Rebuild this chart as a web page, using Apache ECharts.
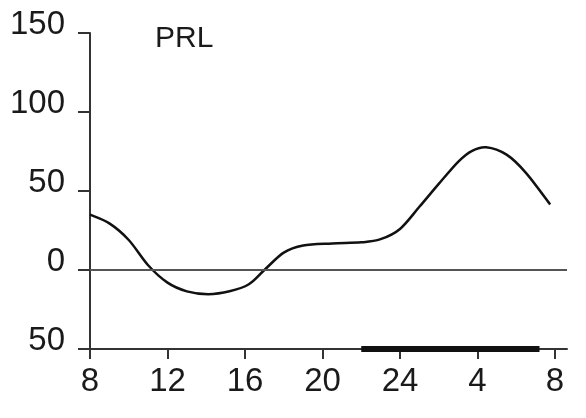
<!DOCTYPE html>
<html>
<head>
<meta charset="utf-8">
<script src="https://cdn.jsdelivr.net/npm/echarts@6/dist/echarts.min.js"></script>
<style>
  html, body { margin: 0; padding: 0; background: #fff; }
  #chart { width: 586px; height: 418px; }
</style>
</head>
<body>
<div id="chart"></div>
<script>
// Clock time in hours from 08:00 (8) through the next morning (32 = 08:00)
var hours = [8, 9, 10, 11, 12, 13, 14.1, 15.2, 16.2, 17, 18, 19, 20.5, 22, 23, 24, 25, 26, 27, 27.7, 28.45, 29.5, 30.5, 31.75];
// Prolactin deviation from mean
var prl = [35, 29.5, 19, 3, -8, -13.5, -15.3, -13.5, -9, 0, 11, 15.5, 16.8, 17.5, 19.5, 26, 40, 54.5, 68.5, 75.3, 77.7, 73, 61.5, 41.5];

var xTicks = [8, 12, 16, 20, 24, 28, 32];
var xTickLabels = ['8', '12', '16', '20', '24', '4', '8'];
var yTickLabels = { '-50': '50', '0': '0', '50': '50', '100': '100', '150': '150' };

// Sleep period (dark bar on the time axis)
var sleepStart = 22;
var sleepEnd = 31.2;

var font = '"Liberation Sans", Arial, Helvetica, sans-serif';
var chart = echarts.init(document.getElementById('chart'), null, { renderer: 'canvas' });

// Smooth Catmull-Rom curve through the readings, mapped via the axes
function renderCurve(params, api) {
  if (params.dataIndex !== 0) return null;
  var pts = hours.map(function (h, i) { return api.coord([h, prl[i]]); });
  var d = 'M' + pts[0][0] + ',' + pts[0][1];
  for (var i = 0; i < pts.length - 1; i++) {
    var p0 = pts[i - 1] || pts[i];
    var p1 = pts[i];
    var p2 = pts[i + 1];
    var p3 = pts[i + 2] || p2;
    var c1x = p1[0] + (p2[0] - p0[0]) / 6, c1y = p1[1] + (p2[1] - p0[1]) / 6;
    var c2x = p2[0] - (p3[0] - p1[0]) / 6, c2y = p2[1] - (p3[1] - p1[1]) / 6;
    d += 'C' + c1x + ',' + c1y + ' ' + c2x + ',' + c2y + ' ' + p2[0] + ',' + p2[1];
  }
  return {
    type: 'path',
    shape: { pathData: d },
    style: { fill: null, stroke: '#111', lineWidth: 2.5 }
  };
}

chart.setOption({
  animation: false,
  backgroundColor: '#fff',
  title: {
    text: 'PRL',
    left: 150,
    top: 19,
    textStyle: { fontFamily: font, fontSize: 30, fontWeight: 'normal', color: '#1a1a1a' }
  },
  grid: { left: 90, right: 19, top: 33, bottom: 69, containLabel: false },
  xAxis: {
    type: 'value',
    min: 8,
    max: 32.62,
    axisLine: { show: true, onZero: false, lineStyle: { color: '#333', width: 2 } },
    axisTick: { show: true, length: 10, customValues: xTicks, lineStyle: { color: '#333', width: 2 } },
    axisLabel: {
      customValues: xTicks,
      margin: 16,
      fontFamily: font,
      fontSize: 33,
      color: '#1a1a1a',
      formatter: function (v) { return xTickLabels[xTicks.indexOf(v)]; }
    },
    splitLine: { show: false }
  },
  yAxis: {
    type: 'value',
    min: -50,
    max: 150,
    interval: 50,
    axisLine: { show: true, onZero: false, lineStyle: { color: '#333', width: 2 } },
    axisTick: { show: true, length: 12, inside: false, lineStyle: { color: '#333', width: 2 } },
    axisLabel: {
      margin: 25,
      fontFamily: font,
      fontSize: 33,
      color: '#1a1a1a',
      verticalAlign: 'bottom',
      lineHeight: 16,
      formatter: function (v) { return yTickLabels[String(v)]; }
    },
    splitLine: { show: false }
  },
  series: [
    {
      type: 'custom',
      renderItem: renderCurve,
      data: hours.map(function (h, i) { return [h, prl[i]]; }),
      encode: { x: 0, y: 1 },
      markLine: {
        silent: true,
        symbol: 'none',
        label: { show: false },
        lineStyle: { color: '#555', width: 2, type: 'solid' },
        data: [{ yAxis: 0 }]
      },
      z: 3
    },
    {
      type: 'line',
      data: [[sleepStart, -50], [sleepEnd, -50]],
      symbol: 'none',
      clip: false,
      lineStyle: { color: '#111', width: 6, cap: 'butt' },
      z: 4
    }
  ]
});
</script>
</body>
</html>
